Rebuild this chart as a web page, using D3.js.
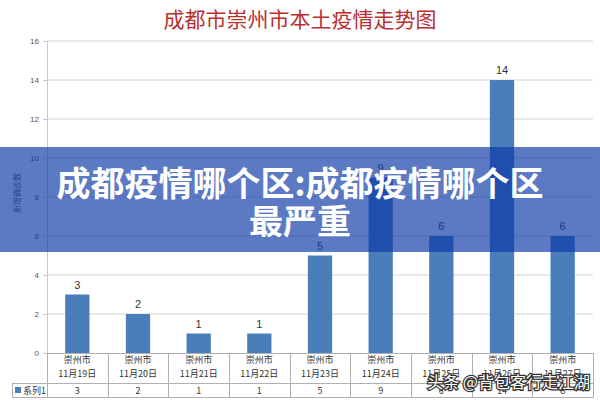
<!DOCTYPE html>
<html><head><meta charset="utf-8">
<script src="https://cdn.jsdelivr.net/npm/d3@7"></script>
<style>
html,body{margin:0;padding:0;background:#fff;}
svg{display:block;font-family:"Noto Sans CJK SC","Noto Sans",sans-serif;}
</style></head>
<body>
<svg id="c" width="600" height="400"></svg>
<script>
const title = "成都市崇州市本土疫情走势图";
const cityLabels = ["崇州市","崇州市","崇州市","崇州市","崇州市","崇州市","崇州市","崇州市","崇州市"];
const dateLabels = ["11月19日","11月20日","11月21日","11月22日","11月23日","11月24日","11月25日","11月26日","11月27日"];
const values = [3,2,1,1,5,9,6,14,6];
const seriesName = "系列1";
const yTicks = [0,2,4,6,8,10,12,14,16];
const yTitle = "新增确诊数";
const bannerLines = ["成都疫情哪个区:成都疫情哪个区","最严重"];
const watermark = "头条 @背包客行走江湖";

const svg = d3.select("#c");
const L = 47, R = 593, T = 41, B = 353;
const x = d3.scaleBand().domain(dateLabels).range([L, R]).paddingInner(0.6).paddingOuter(0.3);
const xs = d3.scaleBand().domain(dateLabels).range([L, R]);
const y = d3.scaleLinear().domain([0,16]).range([B, T]);

// title
svg.append("text").attr("x",300).attr("y",27).attr("text-anchor","middle")
  .attr("font-size",21).attr("fill","#b8302e").text(title);

// gridlines
svg.append("g").selectAll("line").data(yTicks.filter(d=>d>0)).join("line")
  .attr("x1",L).attr("x2",R).attr("y1",d=>y(d)).attr("y2",d=>y(d))
  .attr("stroke","#d4d4d4").attr("stroke-width",1);

// y axis
const ya = svg.append("g").attr("transform",`translate(${L},0)`)
  .call(d3.axisLeft(y).tickValues(yTicks).tickSize(4).tickPadding(4));
ya.select(".domain").attr("stroke","#c8c8c8");
ya.selectAll(".tick line").attr("stroke","#c8c8c8");
ya.selectAll(".tick text").attr("font-size",8).attr("fill","#555").attr("font-family","Liberation Sans, sans-serif");

// y title
svg.append("text").attr("transform","translate(20,193) rotate(-90)").attr("text-anchor","middle")
  .attr("font-size",8).attr("fill","#555").text(yTitle);

// bars
svg.append("g").selectAll("rect").data(values).join("rect")
  .attr("x",(d,i)=>x(dateLabels[i])).attr("width",x.bandwidth())
  .attr("y",d=>y(d)).attr("height",d=>B-y(d)).attr("fill","#4a7ebb");

// value labels
svg.append("g").selectAll("text").data(values).join("text")
  .attr("x",(d,i)=>x(dateLabels[i])+x.bandwidth()/2).attr("y",d=>y(d)-6)
  .attr("text-anchor","middle").attr("font-size",11).attr("fill","#333")
  .attr("font-family","Liberation Sans, sans-serif").text(d=>d);

// table
const tg = svg.append("g").attr("stroke","#b0b0b0").attr("stroke-width",1);
tg.append("line").attr("x1",L).attr("x2",R).attr("y1",B+0.5).attr("y2",B+0.5);
tg.append("line").attr("x1",12).attr("x2",R).attr("y1",383.5).attr("y2",383.5);
tg.append("line").attr("x1",12).attr("x2",R).attr("y1",397.5).attr("y2",397.5);
tg.append("line").attr("x1",12.5).attr("x2",12.5).attr("y1",383).attr("y2",398);
const bounds = dateLabels.map(d=>xs(d)).concat([R]);
tg.selectAll("line.v").data(bounds).join("line").attr("class","v")
  .attr("x1",d=>Math.round(d)+0.5).attr("x2",d=>Math.round(d)+0.5).attr("y1",B).attr("y2",398);

const cg = svg.append("g").attr("font-size",9).attr("fill","#333").attr("text-anchor","middle");
cg.selectAll("text.c").data(cityLabels).join("text").attr("class","c")
  .attr("x",(d,i)=>xs(dateLabels[i])+xs.bandwidth()/2).attr("y",363).text(d=>d);
cg.selectAll("text.d").data(dateLabels).join("text").attr("class","d")
  .attr("x",d=>xs(d)+xs.bandwidth()/2).attr("y",377).text(d=>d);
cg.selectAll("text.v").data(values).join("text").attr("class","v")
  .attr("x",(d,i)=>xs(dateLabels[i])+xs.bandwidth()/2).attr("y",394).text(d=>d);

svg.append("rect").attr("x",15).attr("y",387).attr("width",6).attr("height",6).attr("fill","#4a7ebb");
svg.append("text").attr("x",23).attr("y",394).attr("font-size",9).attr("fill","#333").text(seriesName);

// banner overlay
svg.append("rect").attr("x",0).attr("y",147).attr("width",600).attr("height",105)
  .attr("fill","rgb(15,58,168)").attr("fill-opacity",0.68);
svg.append("g").selectAll("text").data(bannerLines).join("text")
  .attr("x",300).attr("y",(d,i)=>196+i*38).attr("text-anchor","middle")
  .attr("font-size",34).attr("font-weight","bold").attr("fill","#fff").text(d=>d);

// watermark
svg.append("text").attr("x",590).attr("y",388).attr("text-anchor","end")
  .attr("font-size",16).attr("fill","#fff").attr("stroke","#333").attr("stroke-width",2.5)
  .attr("paint-order","stroke").text(watermark);
</script>
</body></html>
